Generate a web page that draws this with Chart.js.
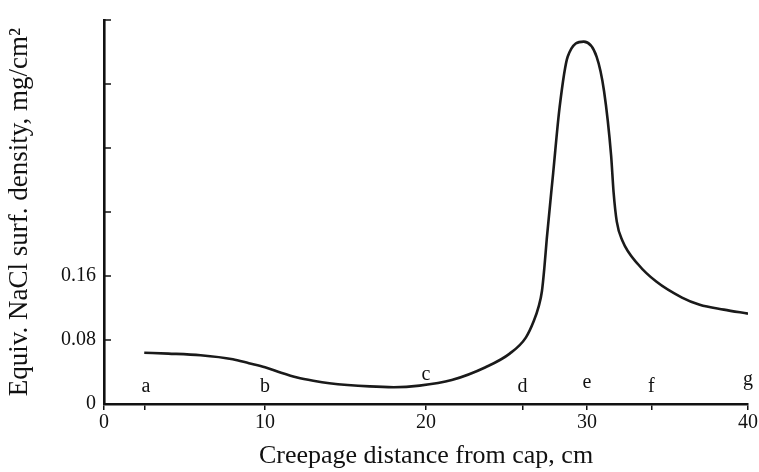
<!DOCTYPE html>
<html>
<head>
<meta charset="utf-8">
<script src="https://cdn.jsdelivr.net/npm/chart.js@4.4.1/dist/chart.umd.min.js"></script>
<style>
  html, body { margin: 0; padding: 0; background: #fff; }
  #wrap { width: 759px; height: 472px; }
</style>
</head>
<body>
<div id="wrap"><canvas id="myChart"></canvas></div>
<script>
'use strict';

// creepage distance (cm) and equivalent salt deposit density (mg/cm2)
const distances = [2.5, 4, 6, 8, 9, 10, 11, 12, 13, 14, 16.5, 18, 19.6, 21.6, 23.7, 25.2, 26.2, 26.7, 27.0, 27.2, 27.35, 27.5, 27.9, 28.3, 28.8, 29.8, 30.6, 31.06, 31.5, 31.65, 31.85, 32.2, 33.2, 34.3, 35.9, 37, 38.5, 40];
const densities = [0.064, 0.063, 0.061, 0.056, 0.051, 0.046, 0.039, 0.033, 0.029, 0.026, 0.022, 0.021, 0.023, 0.030, 0.046, 0.063, 0.083, 0.104, 0.122, 0.141, 0.170, 0.206, 0.289, 0.371, 0.434, 0.453, 0.434, 0.391, 0.310, 0.265, 0.228, 0.204, 0.174, 0.153, 0.133, 0.124, 0.118, 0.113];

// x ticks: labelled majors plus the positions a..g
const xTickValues = [0, 2.5, 10, 20, 26, 30, 34, 40];
const xTickLabels = ['0', '', '10', '20', '', '30', '', '40'];
const yTickValues = [0, 0.08, 0.16, 0.24, 0.32, 0.40, 0.48];
const yTickLabels = ['0', '0.08', '0.16', '', '', '', ''];

// point letters along the insulator
const letters = ['a', 'b', 'c', 'd', 'e', 'f', 'g'];
const letterX = [2.6, 10, 20, 26, 30, 34, 40];
const letterY = [0.022, 0.022, 0.036, 0.022, 0.026, 0.022, 0.030];

const serif = '"Liberation Serif", "DejaVu Serif", serif';

const letterPlugin = {
  id: 'letters',
  afterDraw(chart) {
    const ctx = chart.ctx;
    const xs = chart.scales.x;
    const ys = chart.scales.y;
    ctx.save();
    // inward y ticks
    ctx.strokeStyle = '#111';
    ctx.lineWidth = 1.5;
    for (let i = 0; i < yTickValues.length; i++) {
      const py = ys.getPixelForValue(yTickValues[i]);
      ctx.beginPath();
      ctx.moveTo(xs.left, py);
      ctx.lineTo(xs.left + 7, py);
      ctx.stroke();
    }
    ctx.fillStyle = '#111';
    ctx.font = '20px ' + serif;
    ctx.textAlign = 'center';
    ctx.textBaseline = 'middle';
    for (let i = 0; i < letters.length; i++) {
      ctx.fillText(letters[i], xs.getPixelForValue(letterX[i]), ys.getPixelForValue(letterY[i]));
    }
    ctx.restore();
  }
};

const points = [];
for (let i = 0; i < distances.length; i++) {
  points.push({ x: distances[i], y: densities[i] });
}

new Chart(document.getElementById('myChart'), {
  type: 'line',
  data: {
    datasets: [{
      data: points,
      borderColor: '#1a1a1a',
      borderWidth: 2.6,
      pointRadius: 0,
      cubicInterpolationMode: 'monotone',
      fill: false
    }]
  },
  options: {
    responsive: true,
    maintainAspectRatio: false,
    animation: false,
    layout: { padding: { top: 15, right: 9, left: 0, bottom: 0 } },
    plugins: { legend: { display: false }, tooltip: { enabled: false } },
    scales: {
      x: {
        type: 'linear',
        min: 0,
        max: 40,
        afterBuildTicks(scale) {
          scale.ticks = xTickValues.map(v => ({ value: v }));
        },
        afterFit(scale) { scale.height = 68; },
        ticks: {
          autoSkip: false,
          maxRotation: 0,
          padding: 1,
          color: '#111',
          font: { family: serif, size: 20 },
          callback: (v, i) => xTickLabels[i]
        },
        grid: { drawOnChartArea: false, drawTicks: true, tickLength: 6, color: '#111', lineWidth: 1.5 },
        border: { display: true, color: '#111', width: 2.6 },
        title: {
          display: true,
          text: 'Creepage distance from cap, cm',
          color: '#111',
          font: { family: serif, size: 26 },
          padding: { top: 0, bottom: 0 }
        }
      },
      y: {
        type: 'linear',
        min: 0,
        max: 0.48,
        afterBuildTicks(scale) {
          scale.ticks = yTickValues.map(v => ({ value: v }));
        },
        afterFit(scale) { scale.width = 104; },
        ticks: {
          autoSkip: false,
          padding: 8,
          color: '#111',
          font: { family: serif, size: 20 },
          callback: (v, i) => yTickLabels[i]
        },
        grid: { drawOnChartArea: false, drawTicks: false, color: '#111' },
        border: { display: true, color: '#111', width: 2.6 },
        title: {
          display: true,
          text: 'Equiv. NaCl surf. density, mg/cm²',
          color: '#111',
          font: { family: serif, size: 27 },
          padding: { top: 4, bottom: 0 }
        }
      }
    }
  },
  plugins: [letterPlugin]
});
</script>
</body>
</html>
